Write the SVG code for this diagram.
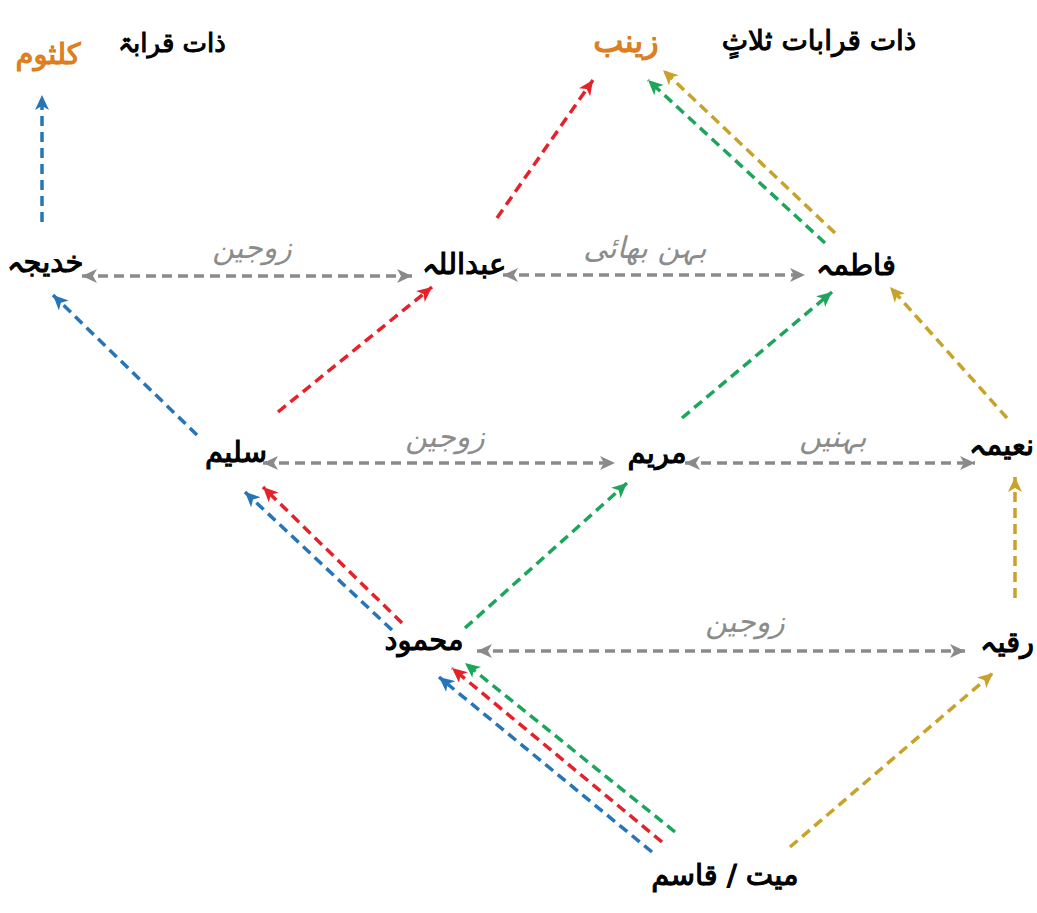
<svg xmlns="http://www.w3.org/2000/svg" width="1037" height="913" viewBox="0 0 1037 913">
  <style>
    .n { font-family: "DejaVu Sans", sans-serif; font-size: 29px; fill: #000; stroke: #000; stroke-width: 1.1; text-anchor: middle; direction: rtl; }
    .r { text-anchor: start; }
    .o { font-family: "DejaVu Sans", sans-serif; font-size: 32px; fill: #e2821f; stroke: #d97a18; stroke-width: 1.1; text-anchor: middle; direction: rtl; }
    .h { font-family: "DejaVu Sans", sans-serif; font-size: 26px; fill: #000; stroke: #000; stroke-width: 1; text-anchor: middle; direction: rtl; }
    .l { font-family: "DejaVu Sans", sans-serif; font-size: 30px; fill: #8c8c8c; text-anchor: middle; direction: rtl; font-style: italic; }
    .c { fill: none; stroke-width: 3.5; stroke-dasharray: 10 6; }
    .gray { stroke: #8a8a8a; marker-start: url(#mGray); marker-end: url(#mGray); }
    .blue { stroke: #2775b9; marker-end: url(#mBlue); }
    .red { stroke: #e5222a; marker-end: url(#mRed); }
    .green { stroke: #1ea55c; marker-end: url(#mGreen); }
    .gold { stroke: #c9a22a; marker-end: url(#mGold); }
  </style>
  <defs>
    <marker id="mGray" markerUnits="userSpaceOnUse" markerWidth="16" markerHeight="14" viewBox="0 0 16 14" refX="15" refY="7" orient="auto-start-reverse">
      <path d="M0,0 L15,7 L0,14 L4,7 z" fill="#8a8a8a"/>
    </marker>
    <marker id="mBlue" markerUnits="userSpaceOnUse" markerWidth="16" markerHeight="14" viewBox="0 0 16 14" refX="15" refY="7" orient="auto">
      <path d="M0,0 L15,7 L0,14 L4,7 z" fill="#2775b9"/>
    </marker>
    <marker id="mRed" markerUnits="userSpaceOnUse" markerWidth="16" markerHeight="14" viewBox="0 0 16 14" refX="15" refY="7" orient="auto">
      <path d="M0,0 L15,7 L0,14 L4,7 z" fill="#e5222a"/>
    </marker>
    <marker id="mGreen" markerUnits="userSpaceOnUse" markerWidth="16" markerHeight="14" viewBox="0 0 16 14" refX="15" refY="7" orient="auto">
      <path d="M0,0 L15,7 L0,14 L4,7 z" fill="#1ea55c"/>
    </marker>
    <marker id="mGold" markerUnits="userSpaceOnUse" markerWidth="16" markerHeight="14" viewBox="0 0 16 14" refX="15" refY="7" orient="auto">
      <path d="M0,0 L15,7 L0,14 L4,7 z" fill="#c9a22a"/>
    </marker>
  </defs>
  <rect width="1037" height="913" fill="#fff"/>

  <g id="connectors">
    <line class="c gray" x1="82" y1="276" x2="412" y2="276"/>
    <line class="c gray" x1="503" y1="275" x2="805" y2="275"/>
    <line class="c gray" x1="263" y1="463" x2="615" y2="463"/>
    <line class="c gray" x1="685" y1="463" x2="975" y2="463"/>
    <line class="c gray" x1="477" y1="651" x2="965" y2="651"/>

    <line class="c blue" x1="42" y1="222" x2="42" y2="95"/>
    <line class="c blue" x1="197" y1="435" x2="53" y2="295"/>
    <line class="c blue" x1="392" y1="630" x2="245" y2="492"/>
    <line class="c blue" x1="652" y1="852" x2="439" y2="677"/>

    <line class="c red" x1="497" y1="218" x2="593" y2="80"/>
    <line class="c red" x1="278" y1="412" x2="432" y2="287"/>
    <line class="c red" x1="402" y1="623" x2="263" y2="487"/>
    <line class="c red" x1="662" y1="842" x2="452" y2="668"/>

    <line class="c green" x1="825" y1="243" x2="648" y2="80"/>
    <line class="c green" x1="682" y1="418" x2="832" y2="292"/>
    <line class="c green" x1="465" y1="628" x2="627" y2="483"/>
    <line class="c green" x1="675" y1="832" x2="465" y2="663"/>

    <line class="c gold" x1="835" y1="233" x2="663" y2="70"/>
    <line class="c gold" x1="1007" y1="418" x2="890" y2="287"/>
    <line class="c gold" x1="1015" y1="598" x2="1015" y2="477"/>
    <line class="c gold" x1="790" y1="847" x2="993" y2="673"/>
  </g>

  <g id="edge-labels">
    <text class="l" x="252" y="258">زوجین</text>
    <text class="l" x="645" y="258">بہن بھائی</text>
    <text class="l" x="445" y="447">زوجین</text>
    <text class="l" x="833" y="447">بہنیں</text>
    <text class="l" x="745" y="632">زوجین</text>
  </g>

  <g id="heading-left"><text class="h" x="172" y="52">ذات قرابۃ</text></g>
  <g id="heading-right"><text class="h" x="819" y="50" style="font-size:28px">ذات قرابات ثلاثٍ</text></g>

  <g id="node-kulthum"><text class="o" x="48" y="64" style="font-size:29px">کلثوم</text></g>
  <g id="node-zainab"><text class="o" x="626" y="52">زینب</text></g>
  <g id="node-khadija"><text class="n" x="45" y="272">خدیجہ</text></g>
  <g id="node-abdullah"><text class="n" x="464" y="274">عبداللہ</text></g>
  <g id="node-fatima"><text class="n" x="856" y="275">فاطمہ</text></g>
  <g id="node-salim"><text class="n" x="236" y="462">سلیم</text></g>
  <g id="node-maryam"><text class="n" x="657" y="463">مریم</text></g>
  <g id="node-naima"><text class="n r" x="1034" y="455">نعیمہ</text></g>
  <g id="node-mahmood"><text class="n" x="424" y="650">محمود</text></g>
  <g id="node-ruqayya"><text class="n r" x="1034" y="652">رقیہ</text></g>
  <g id="node-qasim"><text class="n" x="725" y="885">میت / قاسم</text></g>
</svg>
